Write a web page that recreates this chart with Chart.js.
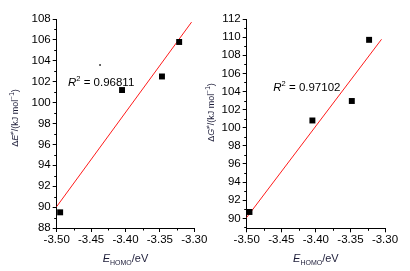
<!DOCTYPE html>
<html>
<head>
<meta charset="utf-8">
<script src="https://cdn.jsdelivr.net/npm/chart.js@4/dist/chart.umd.min.js"></script>
<style>
  html, body { margin: 0; padding: 0; background: #fff; }
  #wrap { position: relative; width: 410px; height: 271px; overflow: hidden; background: #fff; }
  canvas { position: absolute; top: 0; }
</style>
</head>
<body>
<div id="wrap">
  <canvas id="cL" width="222" height="271" style="left:0px"></canvas>
  <canvas id="cR" width="205" height="271" style="left:205px"></canvas>
</div>
<script>
// ---- data ----
const xTicks = [-3.50, -3.45, -3.40, -3.35, -3.30];
const xTickLabels = ['-3.50', '-3.45', '-3.40', '-3.35', '-3.30'];

const yTicksLeft = [88, 90, 92, 94, 96, 98, 100, 102, 104, 106, 108];
const yTicksRight = [90, 92, 94, 96, 98, 100, 102, 104, 106, 108, 110, 112];

// left panel: ΔE≠
const eHomoLeft = [-3.495, -3.405, -3.347, -3.322];
const deltaE = [89.5, 101.2, 102.5, 105.8];
const strayDotX = [-3.437];
const strayDotY = [103.6];
const fitLeftX = [-3.50, -3.304];
const fitLeftY = [90.05, 107.7];
const r2Left = '0.96811';

// right panel: ΔG≠
const eHomoRight = [-3.496, -3.405, -3.348, -3.323];
const deltaG = [90.7, 100.8, 102.95, 109.7];
const fitRightX = [-3.50, -3.305];
const fitRightY = [90.1, 109.76];
const r2Right = '0.97102';

// ---- helpers ----
const FONT = '"Liberation Sans", Arial, sans-serif';
const TITLE_COLOR = '#1c1c38';

function pts(xs, ys) { return xs.map((x, i) => ({ x: x, y: ys[i] })); }

function minorOf(major, min, max) {
  const step = major[1] - major[0];
  const out = [];
  const first = major[0] - step / 2;
  if (first >= min - 1e-9) out.push(first);
  for (let i = 0; i < major.length; i++) {
    const v = major[i] + step / 2;
    if (v <= max + 1e-9) out.push(v);
  }
  return out;
}

function drawRich(ctx, segs, cx, cy) {
  let total = 0;
  segs.forEach(s => { ctx.font = s.font; s.w = ctx.measureText(s.t).width; total += s.w; });
  let x = cx - total / 2;
  ctx.textAlign = 'left';
  ctx.textBaseline = 'alphabetic';
  segs.forEach(s => {
    ctx.font = s.font;
    ctx.fillText(s.t, x, cy + (s.dy || 0));
    x += s.w;
  });
}

function makeDecor(cfg) {
  return {
    id: 'decor',
    afterDraw(chart) {
      const ctx = chart.ctx, a = chart.chartArea, xs = chart.scales.x, ys = chart.scales.y;
      ctx.save();
      // minor ticks
      ctx.strokeStyle = '#000';
      ctx.lineWidth = 1;
      ctx.beginPath();
      cfg.xMinor.forEach(v => {
        const px = Math.round(xs.getPixelForValue(v)) + 0.5;
        ctx.moveTo(px, a.bottom); ctx.lineTo(px, a.bottom + 2.5);
      });
      cfg.yMinor.forEach(v => {
        const py = Math.round(ys.getPixelForValue(v)) + 0.5;
        ctx.moveTo(a.left, py); ctx.lineTo(a.left - 2.5, py);
      });
      ctx.stroke();

      ctx.fillStyle = TITLE_COLOR;
      // x title
      drawRich(ctx, [
        { t: 'E', font: 'italic 11px ' + FONT },
        { t: 'HOMO', font: '7px ' + FONT, dy: 2.5 },
        { t: '/eV', font: '11px ' + FONT }
      ], (a.left + a.right) / 2, 262);

      // y title (rotated)
      ctx.save();
      ctx.translate(cfg.yTitleX, cfg.yTitleY);
      ctx.rotate(-Math.PI / 2);
      drawRich(ctx, [
        { t: '\u0394', font: '9px ' + FONT },
        { t: cfg.sym, font: 'italic 9px ' + FONT },
        { t: '\u2260', font: '6.5px ' + FONT, dy: -3.5 },
        { t: '/(kJ mol', font: '9px ' + FONT },
        { t: '\u22121', font: '6.5px ' + FONT, dy: -3.5 },
        { t: ')', font: '9px ' + FONT }
      ], 0, 3);
      ctx.restore();

      // R² annotation
      ctx.fillStyle = '#000';
      const segs = [
        { t: 'R', font: 'italic 11.5px ' + FONT },
        { t: '2', font: '7.5px ' + FONT, dy: -5 },
        { t: ' = ' + cfg.r2, font: '11.5px ' + FONT }
      ];
      let total = 0;
      segs.forEach(s => { ctx.font = s.font; total += ctx.measureText(s.t).width; });
      drawRich(ctx, segs, cfg.r2X + total / 2, cfg.r2Y);
      ctx.restore();
    }
  };
}

function makeChart(id, o) {
  const ctx = document.getElementById(id);
  return new Chart(ctx, {
    type: 'scatter',
    data: {
      datasets: [
        {
          label: 'fit',
          data: pts(o.fitX, o.fitY),
          showLine: true,
          borderColor: '#ff1a1a',
          borderWidth: 1,
          pointRadius: 0,
          fill: false,
          order: 2
        },
        {
          label: 'data',
          data: pts(o.px, o.py),
          pointStyle: 'rect',
          pointRadius: 4.2,
          pointHoverRadius: 4.2,
          backgroundColor: '#000',
          borderWidth: 0,
          order: 1
        }
      ].concat(o.extra || [])
    },
    options: {
      responsive: false,
      animation: false,
      devicePixelRatio: 1,
      clip: false,
      events: [],
      layout: { padding: { left: 0, top: 19, right: o.padRight, bottom: 0 } },
      plugins: { legend: { display: false }, tooltip: { enabled: false } },
      scales: {
        x: {
          type: 'linear',
          min: -3.50, max: -3.30,
          afterBuildTicks: s => { s.ticks = xTicks.map(v => ({ value: v })); },
          afterFit: s => { s.height = o.xAxisH; s.paddingLeft = 0; s.paddingRight = 0; },
          ticks: {
            color: '#000',
            font: { family: FONT, size: 11.5 },
            padding: 1,
            maxRotation: 0,
            autoSkip: false,
            callback: (v, i) => xTickLabels[i]
          },
          grid: { drawOnChartArea: false, drawTicks: true, tickLength: 4, tickColor: '#000' },
          border: { display: true, color: '#000', width: 1 }
        },
        y: {
          type: 'linear',
          min: o.yMin, max: o.yMax,
          afterBuildTicks: s => { s.ticks = o.yTicks.map(v => ({ value: v })); },
          afterFit: s => { s.width = o.yAxisW; s.paddingTop = 0; s.paddingBottom = 0; },
          ticks: {
            color: '#000',
            font: { family: FONT, size: 11.5 },
            padding: 2,
            autoSkip: false,
            callback: v => String(v)
          },
          grid: { drawOnChartArea: false, drawTicks: true, tickLength: 4, tickColor: '#000' },
          border: { display: true, color: '#000', width: 1 }
        }
      }
    },
    plugins: [makeDecor({
      xMinor: minorOf(xTicks, -3.50, -3.30),
      yMinor: minorOf(o.yTicks, o.yMin, o.yMax),
      sym: o.sym,
      yTitleX: o.yTitleX, yTitleY: o.yTitleY,
      r2: o.r2, r2X: o.r2X, r2Y: o.r2Y
    })]
  });
}

makeChart('cL', {
  px: eHomoLeft, py: deltaE, fitX: fitLeftX, fitY: fitLeftY,
  extra: [{
    label: 'dot',
    data: pts(strayDotX, strayDotY),
    pointStyle: 'rect',
    pointRadius: 1.1,
    backgroundColor: '#000',
    borderWidth: 0,
    order: 0
  }],
  yTicks: yTicksLeft, yMin: 88, yMax: 108,
  yAxisW: 56.7, xAxisH: 43, padRight: 222 - 194.3,
  sym: 'E', yTitleX: 14.5, yTitleY: 118,
  r2: r2Left, r2X: 68, r2Y: 86
});

makeChart('cR', {
  px: eHomoRight, py: deltaG, fitX: fitRightX, fitY: fitRightY,
  yTicks: yTicksRight, yMin: 88.9, yMax: 112,
  yAxisW: 41.7, xAxisH: 42.7, padRight: 205 - 180,
  sym: 'G', yTitleX: 5.5, yTitleY: 112.5,
  r2: r2Right, r2X: 68.3, r2Y: 90.5
});
</script>
</body>
</html>
